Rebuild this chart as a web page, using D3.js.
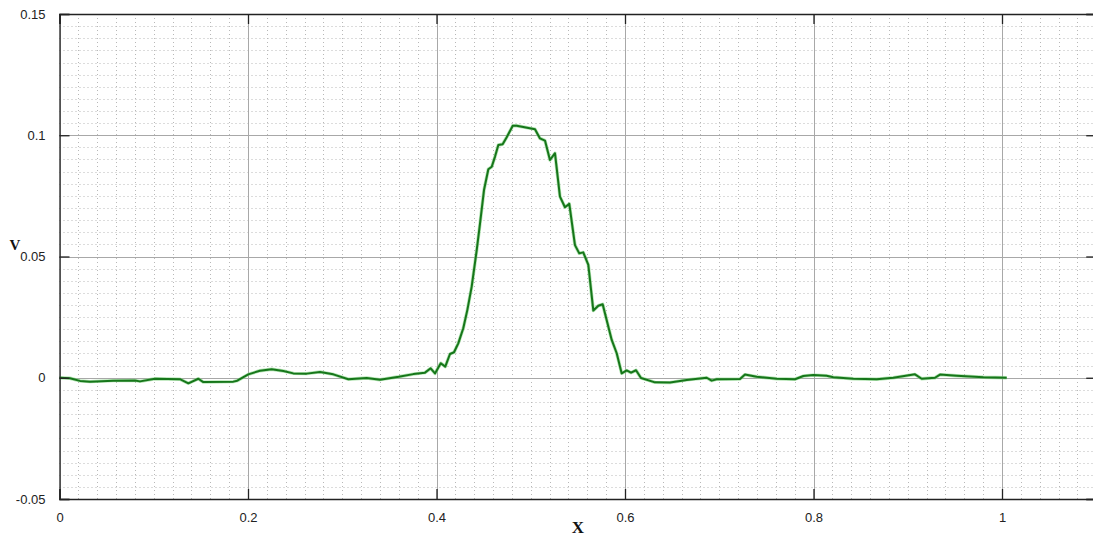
<!DOCTYPE html>
<html><head><meta charset="utf-8">
<script src="https://cdn.jsdelivr.net/npm/d3@7"></script>
<style>body{margin:0;background:#fff}svg{display:block}</style>
</head><body>
<script>
const xVals = [0,0.0111,0.0218,0.0324,0.0571,0.0801,0.0854,0.1013,0.1278,0.1367,0.1473,0.1526,0.1844,0.1886,0.2003,0.2127,0.2251,0.2375,0.2481,0.2623,0.2764,0.2905,0.3064,0.3259,0.3401,0.3600,0.3754,0.3878,0.3938,0.3984,0.4045,0.4093,0.4143,0.4186,0.4231,0.4284,0.4327,0.4373,0.4427,0.4462,0.4504,0.4550,0.4586,0.4621,0.4656,0.4702,0.4745,0.4809,0.4851,0.5045,0.5098,0.5151,0.5204,0.5257,0.5310,0.5363,0.5409,0.5469,0.5515,0.5557,0.5611,0.5664,0.5717,0.5763,0.5859,0.5912,0.5965,0.6018,0.6064,0.6117,0.6170,0.6318,0.6477,0.6655,0.6867,0.6920,0.6973,0.7220,0.7273,0.7397,0.7610,0.7804,0.7892,0.7998,0.8140,0.8210,0.8422,0.8671,0.8847,0.9077,0.9148,0.9289,0.9342,0.9519,0.9802,1.0050];
const vVals = [0,-0.0002,-0.0013,-0.0016,-0.0012,-0.0011,-0.0015,-0.0004,-0.0006,-0.0023,-0.0004,-0.0018,-0.0016,-0.0012,0.0014,0.0029,0.0035,0.0028,0.0018,0.0017,0.0024,0.0014,-0.0006,-0.0001,-0.0008,0.0004,0.0015,0.0021,0.0039,0.0018,0.0060,0.0046,0.0098,0.0105,0.0142,0.0204,0.0279,0.0375,0.0527,0.0637,0.0774,0.0860,0.0870,0.0912,0.0960,0.0963,0.0992,0.1039,0.1039,0.1025,0.0987,0.0978,0.0898,0.0926,0.0747,0.0703,0.0717,0.0547,0.0513,0.0517,0.0465,0.0277,0.0297,0.0303,0.0156,0.0101,0.0018,0.0030,0.0021,0.0031,-0.0001,-0.0019,-0.0020,-0.0009,0.0000,-0.0012,-0.0006,-0.0005,0.0013,0.0004,-0.0004,-0.0006,0.0007,0.0011,0.0008,0.0002,-0.0004,-0.0006,0.0000,0.0014,-0.0004,0.0000,0.0013,0.0008,0.0002,0.0000];
const xTicks = [0,0.2,0.4,0.6,0.8,1];
const xTickLabels = ["0","0.2","0.4","0.6","0.8","1"];
const yTicks = [-0.05,0,0.05,0.1,0.15];
const yTickLabels = ["-0.05","0","0.05","0.1","0.15"];
const xLabel = "X", yLabel = "V";

const W = 1093, H = 541;
const x = d3.scaleLinear().domain([0,1.1]).range([59.5, 59.5 + 1.1*942.5]);
const y = d3.scaleLinear().domain([-0.05,0.15]).range([499, 14]);

const svg = d3.select("body").append("svg").attr("width",W).attr("height",H);
const g = svg.append("g");

// minor grid
const xMinor = d3.range(0, 1.1001, 0.02).map(v=>+v.toFixed(3));
const yMinor = d3.range(-0.05, 0.15001, 0.005).map(v=>+v.toFixed(4));
g.selectAll(".vxm").data(xMinor).join("line")
  .attr("x1",d=>Math.round(x(d))+0.5).attr("x2",d=>Math.round(x(d))+0.5)
  .attr("y1",y(0.15)).attr("y2",y(-0.05))
  .attr("stroke","#b8b8b8").attr("stroke-width",1).attr("stroke-dasharray","1,3");
g.selectAll(".hym").data(yMinor).join("line")
  .attr("y1",d=>Math.round(y(d))+0.5).attr("y2",d=>Math.round(y(d))+0.5)
  .attr("x1",x(0)).attr("x2",x(1.1))
  .attr("stroke","#b8b8b8").attr("stroke-width",1).attr("stroke-dasharray","1,3");
// major grid
g.selectAll(".vx").data(xTicks).join("line")
  .attr("x1",d=>Math.round(x(d))+0.5).attr("x2",d=>Math.round(x(d))+0.5)
  .attr("y1",y(0.15)).attr("y2",y(-0.05))
  .attr("stroke","#a8a8a8").attr("stroke-width",1);
g.selectAll(".hy").data(yTicks).join("line")
  .attr("y1",d=>Math.round(y(d))+0.5).attr("y2",d=>Math.round(y(d))+0.5)
  .attr("x1",x(0)).attr("x2",x(1.1))
  .attr("stroke","#a8a8a8").attr("stroke-width",1);

// data line
const pts = xVals.map((d,i)=>[d, vVals[i]]);
const lineGen = d3.line().x(d=>x(d[0])).y(d=>y(d[1]));
g.append("path").datum(pts)
  .attr("fill","none").attr("stroke","#7fd27f").attr("stroke-width",3.4).attr("stroke-opacity",0.6)
  .attr("stroke-linejoin","round").attr("d", lineGen);
g.append("path").datum(pts)
  .attr("fill","none").attr("stroke","#16761a").attr("stroke-width",2)
  .attr("stroke-linejoin","round").attr("d", lineGen);

// axes with inward ticks
const tickSize = 10;
const axB = d3.axisBottom(x).tickValues(xTicks).tickSize(-tickSize).tickPadding(tickSize+4)
  .tickFormat((d,i)=>xTickLabels[i]);
const axT = d3.axisTop(x).tickValues(xTicks).tickSize(-tickSize).tickFormat("");
const axL = d3.axisLeft(y).tickValues(yTicks).tickSize(-tickSize).tickPadding(tickSize+4)
  .tickFormat((d,i)=>yTickLabels[i]);
const axR = d3.axisRight(y).tickValues(yTicks).tickSize(-tickSize).tickFormat("");

function style(sel){
  sel.selectAll(".domain").attr("stroke","#222").attr("stroke-width",1.3);
  sel.selectAll(".tick line").attr("stroke","#222").attr("stroke-width",1.3);
  sel.selectAll("text").attr("font-family","'Liberation Sans', Arial, sans-serif").attr("font-size",13).attr("fill","#222");
}
svg.append("g").attr("transform",`translate(0,${y(-0.05)})`).call(axB).call(style);
svg.append("g").attr("transform",`translate(0,${y(0.15)})`).call(axT).call(style);
svg.append("g").attr("transform",`translate(${x(0)},0)`).call(axL).call(style);
svg.append("g").attr("transform",`translate(${x(1.1)},0)`).call(axR).call(style);

// axis labels
svg.append("text").attr("x",578).attr("y",533).attr("text-anchor","middle")
  .attr("font-family","'Liberation Serif', 'Times New Roman', serif").attr("font-weight","bold")
  .attr("font-size",17).attr("fill","#111").text(xLabel);
svg.append("text").attr("x",15).attr("y",250).attr("text-anchor","middle")
  .attr("font-family","'Liberation Serif', 'Times New Roman', serif").attr("font-weight","bold")
  .attr("font-size",15).attr("fill","#111").text(yLabel);
</script>
</body></html>
